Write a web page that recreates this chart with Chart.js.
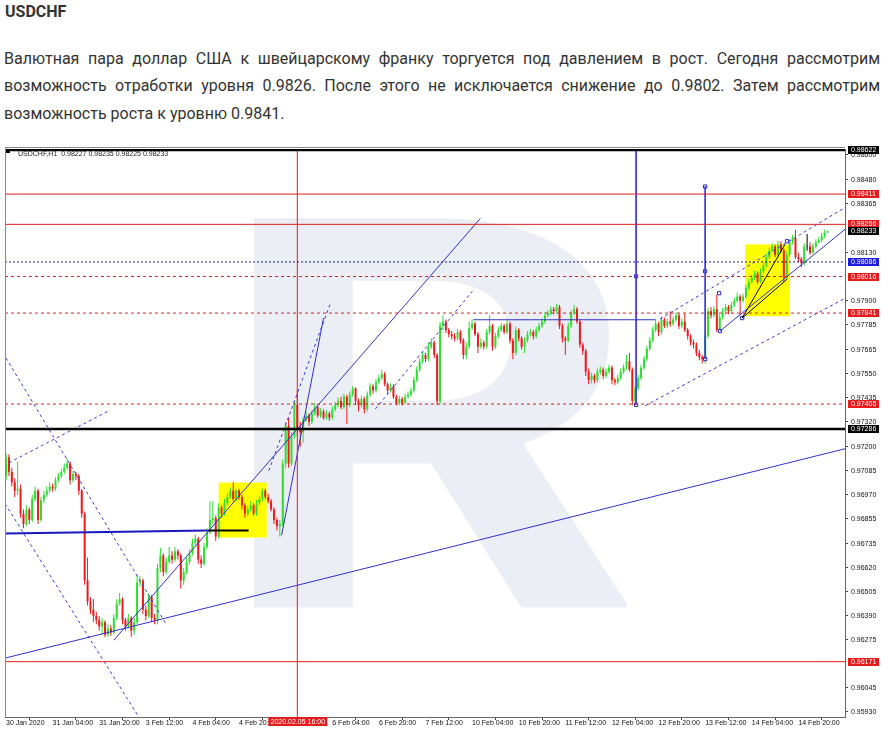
<!DOCTYPE html>
<html><head><meta charset="utf-8">
<script src="https://cdn.jsdelivr.net/npm/chart.js@4"></script>
<style>
html,body{margin:0;padding:0;background:#fff;}
body{width:888px;height:732px;position:relative;overflow:hidden;font-family:Roboto,"Noto Sans",sans-serif;color:#333;}
#title{position:absolute;left:5px;top:2px;font-size:16px;font-weight:700;line-height:20px;color:#333;}
.ln{position:absolute;left:4px;width:876px;font-size:16px;line-height:27.5px;white-space:nowrap;}
.j{text-align:justify;text-align-last:justify;white-space:normal;}
#wrap{position:absolute;left:0;top:144px;width:888px;height:588px;}
</style></head><body>
<div id="title">USDCHF</div>
<div class="ln j" style="top:44.5px">Валютная пара доллар США к швейцарскому франку торгуется под давлением в рост. Сегодня рассмотрим</div>
<div class="ln j" style="top:72px">возможность отработки уровня 0.9826. После этого не исключается снижение до 0.9802. Затем рассмотрим</div>
<div class="ln" style="top:99.5px">возможность роста к уровню 0.9841.</div>
<div id="wrap"><canvas id="c" width="888" height="588"></canvas></div>
<script>
// ---------- DATA (USDCHF H1, 30 Jan 12:00 ... 17 Feb) ----------
const symbolName = 'USDCHF,H1';
const firstOpen = 0.97060;
const closes = [
0.97150,0.97080,0.97030,0.96990,0.97000,0.96880,0.96830,0.96900,0.96850,0.96950,
0.96990,0.96850,0.96945,0.96970,0.96990,0.97010,0.97000,0.97040,0.97060,0.97080,
0.97100,0.97120,0.97040,0.97070,0.97060,0.96990,0.96880,0.96560,0.96460,0.96420,
0.96390,0.96370,0.96340,0.96360,0.96300,0.96330,0.96310,0.96380,0.96450,0.96470,
0.96370,0.96340,0.96380,0.96320,0.96360,0.96550,0.96560,0.96420,0.96390,0.96480,
0.96380,0.96370,0.96620,0.96680,0.96600,0.96650,0.96680,0.96660,0.96700,0.96680,
0.96560,0.96600,0.96650,0.96690,0.96740,0.96760,0.96660,0.96640,0.96720,0.96790,
0.96850,0.96860,0.96770,0.96910,0.96880,0.96930,0.96960,0.96990,0.96950,0.96990,
0.96960,0.96920,0.96880,0.96900,0.96920,0.96880,0.96930,0.96950,0.96990,0.96960,
0.96940,0.96900,0.96850,0.96820,0.96830,0.97120,0.97300,0.97120,0.97250,0.97400,
0.97280,0.97270,0.97330,0.97350,0.97320,0.97360,0.97390,0.97350,0.97370,0.97340,
0.97360,0.97340,0.97380,0.97400,0.97420,0.97390,0.97440,0.97400,0.97450,0.97480,
0.97420,0.97400,0.97430,0.97380,0.97450,0.97490,0.97470,0.97510,0.97530,0.97550,
0.97500,0.97470,0.97490,0.97440,0.97410,0.97430,0.97410,0.97440,0.97450,0.97470,
0.97520,0.97570,0.97610,0.97640,0.97620,0.97680,0.97700,0.97640,0.97420,0.97780,
0.97800,0.97760,0.97740,0.97730,0.97720,0.97750,0.97710,0.97640,0.97680,0.97770,
0.97790,0.97740,0.97680,0.97700,0.97680,0.97750,0.97780,0.97680,0.97730,0.97760,
0.97780,0.97750,0.97790,0.97710,0.97650,0.97760,0.97720,0.97680,0.97710,0.97740,
0.97750,0.97730,0.97760,0.97780,0.97800,0.97830,0.97840,0.97860,0.97850,0.97870,
0.97780,0.97720,0.97710,0.97780,0.97840,0.97860,0.97800,0.97690,0.97660,0.97560,
0.97520,0.97540,0.97520,0.97560,0.97570,0.97540,0.97560,0.97580,0.97520,0.97510,
0.97530,0.97560,0.97580,0.97610,0.97570,0.97420,0.97480,0.97530,0.97580,0.97620,
0.97670,0.97710,0.97760,0.97790,0.97750,0.97810,0.97780,0.97800,0.97790,0.97810,
0.97830,0.97780,0.97800,0.97760,0.97730,0.97700,0.97690,0.97650,0.97630,0.97620,
0.97730,0.97850,0.97830,0.97860,0.97760,0.97820,0.97850,0.97870,0.97850,0.97880,
0.97900,0.97920,0.97900,0.97920,0.97960,0.97990,0.98010,0.98030,0.97990,0.98040,
0.98070,0.98110,0.98140,0.98160,0.98120,0.98170,0.98140,0.98010,0.98120,0.98180,
0.98200,0.98110,0.98100,0.98080,0.98160,0.98160,0.98130,0.98160,0.98180,0.98190,
0.98210,0.98227,0.98233];
const highs = [
0.97170,0.97165,0.97100,0.97050,0.97130,0.97020,0.96900,0.96920,0.96910,0.96970,
0.97010,0.97000,0.96960,0.96990,0.97010,0.97030,0.97025,0.97055,0.97075,0.97095,
0.97120,0.97145,0.97130,0.97085,0.97080,0.97070,0.97000,0.96890,0.96670,0.96480,
0.96470,0.96410,0.96390,0.96380,0.96370,0.96350,0.96345,0.96400,0.96470,0.96500,
0.96480,0.96380,0.96400,0.96390,0.96380,0.96590,0.96580,0.96570,0.96440,0.96500,
0.96490,0.96400,0.96640,0.96715,0.96690,0.96670,0.96720,0.96700,0.96720,0.96710,
0.96690,0.96620,0.96670,0.96710,0.96760,0.96780,0.96770,0.96680,0.96740,0.96810,
0.96940,0.96940,0.96870,0.96930,0.96920,0.96950,0.96980,0.97005,0.97030,0.97000,
0.97000,0.96970,0.96930,0.96915,0.96940,0.96930,0.96945,0.96965,0.97000,0.97000,
0.96975,0.96950,0.96910,0.96860,0.96850,0.97140,0.97320,0.97340,0.97270,0.97420,
0.97470,0.97320,0.97345,0.97370,0.97360,0.97375,0.97410,0.97400,0.97385,0.97380,
0.97375,0.97370,0.97395,0.97415,0.97435,0.97440,0.97455,0.97450,0.97465,0.97490,
0.97485,0.97430,0.97445,0.97440,0.97465,0.97505,0.97500,0.97525,0.97545,0.97570,
0.97560,0.97510,0.97505,0.97500,0.97450,0.97445,0.97440,0.97455,0.97465,0.97485,
0.97535,0.97585,0.97625,0.97655,0.97650,0.97700,0.97720,0.97710,0.97650,0.97800,
0.97830,0.97810,0.97770,0.97755,0.97745,0.97765,0.97760,0.97720,0.97700,0.97800,
0.97810,0.97800,0.97750,0.97720,0.97710,0.97765,0.97830,0.97790,0.97745,0.97775,
0.97795,0.97790,0.97810,0.97800,0.97720,0.97775,0.97770,0.97730,0.97725,0.97755,
0.97765,0.97760,0.97775,0.97795,0.97815,0.97845,0.97855,0.97875,0.97870,0.97885,
0.97880,0.97790,0.97730,0.97795,0.97855,0.97880,0.97870,0.97810,0.97700,0.97670,
0.97575,0.97555,0.97550,0.97575,0.97585,0.97580,0.97575,0.97595,0.97590,0.97530,
0.97545,0.97575,0.97595,0.97640,0.97650,0.97580,0.97495,0.97545,0.97595,0.97635,
0.97685,0.97725,0.97775,0.97815,0.97800,0.97825,0.97820,0.97815,0.97850,0.97825,
0.97845,0.97840,0.97815,0.97840,0.97770,0.97740,0.97715,0.97700,0.97665,0.97640,
0.97745,0.97865,0.97870,0.97875,0.97930,0.97835,0.97865,0.97885,0.97880,0.97895,
0.97915,0.97940,0.97930,0.97935,0.97975,0.98005,0.98025,0.98045,0.98040,0.98055,
0.98085,0.98125,0.98155,0.98175,0.98170,0.98185,0.98185,0.98150,0.98135,0.98195,
0.98215,0.98240,0.98130,0.98110,0.98175,0.98220,0.98180,0.98175,0.98195,0.98205,
0.98225,0.98240,0.98235];
const lows = [
0.97040,0.97060,0.97010,0.96960,0.96970,0.96860,0.96810,0.96820,0.96830,0.96840,
0.96940,0.96830,0.96840,0.96930,0.96960,0.96980,0.96985,0.96990,0.97030,0.97050,
0.97070,0.97090,0.97020,0.97030,0.97040,0.96970,0.96860,0.96540,0.96440,0.96400,
0.96360,0.96350,0.96320,0.96300,0.96288,0.96290,0.96295,0.96300,0.96370,0.96440,
0.96350,0.96320,0.96330,0.96290,0.96300,0.96350,0.96530,0.96400,0.96370,0.96380,
0.96360,0.96350,0.96350,0.96600,0.96580,0.96590,0.96640,0.96640,0.96650,0.96660,
0.96520,0.96540,0.96590,0.96640,0.96680,0.96730,0.96640,0.96620,0.96630,0.96710,
0.96780,0.96830,0.96750,0.96760,0.96860,0.96870,0.96920,0.96950,0.96940,0.96940,
0.96945,0.96900,0.96860,0.96870,0.96890,0.96870,0.96870,0.96920,0.96940,0.96950,
0.96930,0.96890,0.96830,0.96800,0.96770,0.96820,0.97100,0.97100,0.97110,0.97240,
0.97250,0.97200,0.97220,0.97320,0.97300,0.97310,0.97350,0.97340,0.97340,0.97330,
0.97330,0.97325,0.97330,0.97370,0.97390,0.97380,0.97380,0.97310,0.97390,0.97440,
0.97400,0.97370,0.97390,0.97360,0.97370,0.97440,0.97455,0.97460,0.97500,0.97520,
0.97490,0.97455,0.97460,0.97430,0.97400,0.97400,0.97400,0.97405,0.97430,0.97440,
0.97460,0.97510,0.97560,0.97600,0.97605,0.97610,0.97670,0.97625,0.97400,0.97405,
0.97760,0.97745,0.97725,0.97715,0.97705,0.97710,0.97695,0.97620,0.97620,0.97670,
0.97760,0.97730,0.97650,0.97670,0.97665,0.97670,0.97740,0.97660,0.97670,0.97720,
0.97750,0.97740,0.97740,0.97695,0.97620,0.97640,0.97705,0.97665,0.97650,0.97700,
0.97730,0.97715,0.97720,0.97750,0.97770,0.97790,0.97820,0.97830,0.97835,0.97840,
0.97765,0.97700,0.97640,0.97700,0.97770,0.97830,0.97790,0.97675,0.97640,0.97540,
0.97500,0.97505,0.97505,0.97510,0.97545,0.97525,0.97530,0.97550,0.97500,0.97495,
0.97500,0.97520,0.97550,0.97570,0.97560,0.97400,0.97400,0.97470,0.97520,0.97570,
0.97610,0.97660,0.97700,0.97750,0.97730,0.97740,0.97770,0.97770,0.97775,0.97780,
0.97800,0.97765,0.97770,0.97750,0.97715,0.97685,0.97670,0.97635,0.97615,0.97600,
0.97600,0.97720,0.97815,0.97820,0.97750,0.97750,0.97810,0.97840,0.97835,0.97840,
0.97870,0.97890,0.97830,0.97890,0.97910,0.97950,0.97980,0.98000,0.97980,0.97985,
0.98030,0.98060,0.98100,0.98130,0.98110,0.98110,0.98130,0.97990,0.98000,0.98110,
0.98170,0.98100,0.98085,0.98060,0.98070,0.98140,0.98120,0.98125,0.98150,0.98175,
0.98180,0.98200,0.98225];

// x axis tick positions (bar index) and their labels
const xTickIdx = [0,16,32,48,64,80,96,112,128,144,160,176,192,208,224,240,256,272];
const xTickLabels = ['30 Jan 2020','31 Jan 04:00','31 Jan 20:00','3 Feb 12:00','4 Feb 04:00','4 Feb 20:00','5 Feb 12:00','6 Feb 04:00','6 Feb 20:00','7 Feb 12:00','10 Feb 04:00','10 Feb 20:00','11 Feb 12:00','12 Feb 04:00','12 Feb 20:00','13 Feb 12:00','14 Feb 04:00','14 Feb 20:00'];
// y axis tick labels
const yTickVals = [0.98600,0.98480,0.98365,0.98130,0.97900,0.97785,0.97665,0.97550,0.97435,0.97320,0.97200,0.97085,0.96970,0.96855,0.96735,0.96620,0.96505,0.96390,0.96275,0.96045,0.95930];
const yMin = 0.95906, yMax = 0.98627;
const xMin = -0.34, xMax = 288;

// horizontal levels
const hLevelPrices = [0.98622, 0.98411, 0.98266, 0.98086, 0.98016, 0.97841, 0.97405, 0.97286, 0.96171];
const hLevelKinds  = ['black','red','red','blueDot','redDash','redDash','redDash','black','red'];
// vertical time marker (bar index of 2020.02.05 16:00)
const vMarkerIdx = 100;
const vMarkerText = '2020.02.05 16:00';
// trendlines [i1, p1, i2, p2]
const solidLines = [[-0.34,0.96188,288,0.97191],[37,0.96274,162.8,0.98294],[94.6,0.96776,109,0.97817],[245.1,0.97755,288,0.98242],[160.4,0.97809,222.8,0.97809]];
const dashedLines = [[0,0.97626,55,0.96350],[-0.34,0.96928,45.6,0.95906],[1,0.97124,35.3,0.97373],[90.2,0.97086,111.4,0.97889],[126.8,0.97382,160.1,0.97946],[224.5,0.97812,288,0.98347],[219.4,0.97397,288,0.97912]];
const thickBlueLines = [[-0.34,0.96785,69.2,0.96800]];
const thickBlackLines = [[69.2,0.96800,83.3,0.96800]];
const blackLines = [[252.7,0.97817,268.1,0.98003],[252.7,0.97817,267.4,0.98170]];
const verticalLines = [[216.3,0.98627,216.3,0.97401],[240,0.98447,240,0.97621]];
const anchorPoints = [[216.3,0.98017],[216.3,0.97401],[240,0.98447],[240,0.98041],[240,0.97621],[244.8,0.97936],[245.1,0.97755],[252.7,0.97817],[268.1,0.98185]];
const yellowBoxes = [[73,0.97029,89.5,0.96766],[253.7,0.98170,269.1,0.97826]];

// ---------- BUILD ----------
const opens = closes.map((c,i) => i === 0 ? firstOpen : closes[i-1]);
const UP = '#2fdc2f', DN = '#ee1a1a', DOJI = '#000000';
const candleColor = closes.map((c,i) => c > opens[i] ? UP : (c < opens[i] ? DN : DOJI));
const wickData = closes.map((c,i) => ({x:i, y:[Math.min(lows[i],opens[i],c), Math.max(highs[i],opens[i],c)]}));
const bodyData = closes.map((c,i) => {
  let a = opens[i], b = c;
  if (Math.abs(a-b) < 0.000015) { a = c - 0.00001; b = c + 0.00001; }
  return {x:i, y:[a,b]};
});

const RED='#e01e1e';
const kindStyle = {
  black:{c:'#000', w:2.6, d:[]}, red:{c:RED, w:1, d:[]}, redDash:{c:RED, w:1, d:[3,3]}, blueDot:{c:'#1a1aa0', w:1, d:[2,2]}
};
const tagColor = {black:'#000', red:'#e51c1c', redDash:'#e51c1c', blueDot:'#1c1ce0'};

function lineDs(seg, color, width, dash){
  return {type:'line', data:[{x:seg[0],y:seg[1]},{x:seg[2],y:seg[3]}], borderColor:color, borderWidth:width,
    borderDash:dash||[], pointRadius:0, fill:false, tension:0, order:0, clip:0};
}
const datasets = [];
datasets.push({type:'bar', data:wickData, backgroundColor:candleColor, grouped:false, maxBarThickness:1, borderWidth:0, inflateAmount:0, order:3, barPercentage:1, categoryPercentage:1});
datasets.push({type:'bar', data:bodyData, backgroundColor:candleColor, grouped:false, maxBarThickness:2, borderWidth:0, inflateAmount:0, order:2, barPercentage:1, categoryPercentage:1});
hLevelPrices.forEach((p,k) => { const s = kindStyle[hLevelKinds[k]]; datasets.push(lineDs([xMin,p,xMax,p], s.c, s.w, s.d)); });
datasets.push(lineDs([vMarkerIdx,yMin,vMarkerIdx,yMax], RED, 1));
solidLines.forEach(s => datasets.push(lineDs(s, '#3030cc', 1)));
dashedLines.forEach(s => datasets.push(lineDs(s, '#3a3ad6', 1, [3,3])));
thickBlueLines.forEach(s => datasets.push(lineDs(s, '#1818c0', 2)));
thickBlackLines.forEach(s => datasets.push(lineDs(s, '#000', 2)));
blackLines.forEach(s => datasets.push(lineDs(s, '#000', 1)));
verticalLines.forEach(s => datasets.push(lineDs(s, '#3a3ad6', 1)));
datasets.push({type:'line', data:anchorPoints.map(([a,b]) => ({x:a,y:b})), showLine:false, pointStyle:'rect', pointRadius:2.3,
  pointBackgroundColor:'#fff', pointBorderColor:'#2a2ac8', pointBorderWidth:1, order:0, clip:2});

const overlay = {
  id:'overlay',
  beforeDatasetsDraw(chart){
    const {ctx, chartArea:a, scales:{x,y}} = chart;
    ctx.save();
    ctx.beginPath(); ctx.rect(a.left, a.top, a.right-a.left, a.bottom-a.top); ctx.clip();
    // watermark logo letter
    const W = a.right-a.left, H = a.bottom-a.top;
    const bx = a.left + 0.296*W, by = a.top + 0.114*H, bw = 0.45*W, bh = 0.693*H;
    ctx.font = 'bold 400px Roboto';
    const m = ctx.measureText('R');
    const gw = m.actualBoundingBoxLeft + m.actualBoundingBoxRight;
    const gh = m.actualBoundingBoxAscent + m.actualBoundingBoxDescent;
    ctx.save();
    ctx.translate(bx, by); ctx.scale(bw/gw, bh/gh);
    ctx.fillStyle = '#ebeef5'; ctx.textBaseline = 'alphabetic'; ctx.textAlign = 'left';
    ctx.fillText('R', m.actualBoundingBoxLeft, m.actualBoundingBoxAscent);
    ctx.restore();
    // yellow rectangles
    ctx.fillStyle = '#ffff00';
    yellowBoxes.forEach(([i1,p1,i2,p2]) => {
      const x1 = x.getPixelForValue(i1), x2 = x.getPixelForValue(i2), y1 = y.getPixelForValue(p1), y2 = y.getPixelForValue(p2);
      ctx.fillRect(Math.min(x1,x2), Math.min(y1,y2), Math.abs(x2-x1), Math.abs(y2-y1));
    });
    ctx.restore();
  },
  afterDraw(chart){
    const {ctx, chartArea:a, scales:{x,y}} = chart;
    ctx.save();
    // frame
    ctx.strokeStyle = '#8a8a8a'; ctx.lineWidth = 1;
    ctx.beginPath(); ctx.moveTo(a.left+0.5, a.top-2); ctx.lineTo(a.left+0.5, a.bottom); ctx.stroke();
    ctx.beginPath(); ctx.moveTo(a.left, a.top-1.5); ctx.lineTo(a.right, a.top-1.5); ctx.stroke();
    // header
    const n = closes.length-1;
    ctx.fillStyle = '#000'; ctx.fillRect(a.left+1, a.top, 4, 4);
    ctx.fillStyle = '#222'; ctx.font = '7px "Liberation Sans"'; ctx.textBaseline = 'middle'; ctx.textAlign = 'left';
    ctx.fillText(symbolName + '  ' + [opens[n],highs[n],lows[n],closes[n]].map(v => v.toFixed(5)).join(' '), a.left+13, a.top+5);
    // axis price tags
    const tags = hLevelPrices.map((p,k) => [p, tagColor[hLevelKinds[k]]]);
    tags.splice(3, 0, [closes[n], '#000']);
    ctx.font = '7px "Liberation Sans"';
    tags.forEach(([p,col]) => {
      const py = y.getPixelForValue(p);
      ctx.fillStyle = col; ctx.fillRect(a.right+3, Math.round(py)-4, 31, 8);
      ctx.fillStyle = '#fff'; ctx.fillText(p.toFixed(5), a.right+6, Math.round(py)+0.5);
    });
    // time tag
    const vx = x.getPixelForValue(vMarkerIdx);
    ctx.fillStyle = '#e51c1c'; ctx.fillRect(vx-29, a.bottom, 59, 9);
    ctx.fillStyle = '#fff'; ctx.textAlign = 'center'; ctx.fillText(vMarkerText, vx+0.5, a.bottom+4.8);
    ctx.restore();
  }
};

new Chart(document.getElementById('c'), {
  type:'bar',
  data:{datasets},
  options:{
    responsive:false, animation:false, events:[],
    layout:{padding:{left:4, top:4, right:0, bottom:0}},
    plugins:{legend:{display:false}, tooltip:{enabled:false}},
    scales:{
      x:{type:'linear', min:xMin, max:xMax, bounds:'data', offset:false,
        afterFit(s){ s.height = 15; s.paddingLeft = 0; s.paddingRight = 0; },
        afterBuildTicks(s){ s.ticks = xTickIdx.map(v => ({value:v})); },
        ticks:{autoSkip:false, maxRotation:0, minRotation:0, align:'start', padding:-1, color:'#111',
          font:{family:'"Liberation Sans"', size:7}, callback:(v,k) => xTickLabels[k]},
        grid:{display:true, drawOnChartArea:false, drawTicks:true, tickLength:3, color:'#444'},
        border:{display:true, color:'#666'}},
      y:{type:'linear', position:'right', min:yMin, max:yMax, bounds:'data',
        afterFit(s){ s.width = 43; s.paddingTop = 0; s.paddingBottom = 0; },
        afterBuildTicks(s){ s.ticks = yTickVals.map(v => ({value:v})); },
        ticks:{autoSkip:false, padding:3, color:'#111', font:{family:'"Liberation Sans"', size:7}, callback:v => Number(v).toFixed(5)},
        grid:{display:true, drawOnChartArea:false, drawTicks:true, tickLength:3, color:'#444'},
        border:{display:true, color:'#666'}}
    }
  },
  plugins:[overlay]
});
</script>
</body></html>
